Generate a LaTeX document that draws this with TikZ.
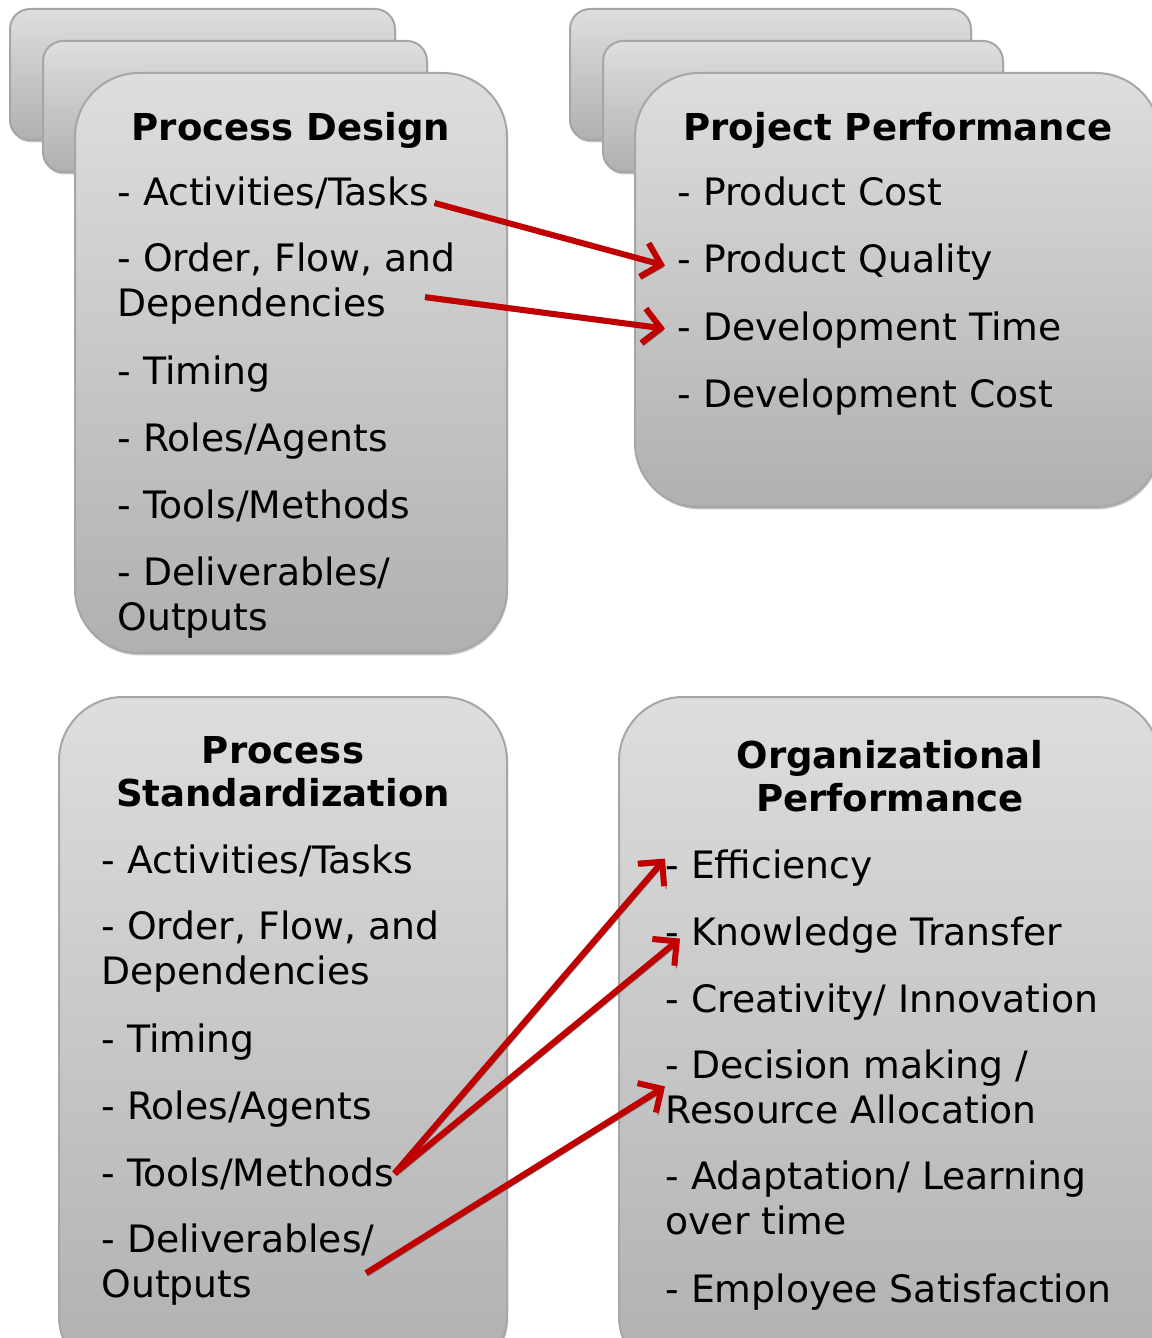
\documentclass[tikz,border=0pt]{standalone}
\usepackage{fontspec}
\setmainfont{DejaVu Sans}
\usetikzlibrary{arrows.meta,shadows}

\definecolor{cardtop}{RGB}{222,222,222}
\definecolor{cardbot}{RGB}{176,176,176}
\definecolor{cardline}{RGB}{166,166,166}
\definecolor{linkred}{RGB}{192,0,0}
\definecolor{linkshade}{RGB}{110,110,110}

\tikzset{every picture/.style={line width=0.75pt}}
\tikzset{
  card/.style={draw=cardline, line width=1.5, top color=cardtop, bottom color=cardbot,
    drop shadow={shadow xshift=0.8pt, shadow yshift=-1.8pt, opacity=0.45}},
  backcard/.style={card, rounded corners=15pt},
  maincard/.style={card, rounded corners=48pt},
  head/.style={font=\fontsize{27.8}{32}\selectfont\bfseries, align=center, anchor=base, inner sep=0},
  item/.style={font=\fontsize{28.3}{33.75}\selectfont, align=left, anchor=base west, inner sep=0},
  link/.style={draw=linkred, line width=4.5pt, -{Straight Barb[length=13pt, width=26pt]},
    preaction={draw=linkshade, transform canvas={xshift=1.5pt, yshift=-2pt}}},
}

\begin{document}
\begin{tikzpicture}[x=0.75pt,y=0.75pt,yscale=-1,xscale=1]
\useasboundingbox (0,0) rectangle (1152,1338);

%Shape: stacked cards, process design
\draw [backcard] (10,9) rectangle (395,140);
\draw [backcard] (43,41) rectangle (427,172);
\draw [maincard] (75,73) rectangle (507,653);
%Shape: stacked cards, project performance
\draw [backcard] (570,9) rectangle (971,140);
\draw [backcard] (603,41) rectangle (1003,172);
\draw [maincard] (635,73) rectangle (1160,507);
%Shape: process standardization
\draw [maincard] (59,697) rectangle (507,1380);
%Shape: organizational performance
\draw [maincard] (619,697) rectangle (1160,1380);

% Text Node: process design
\node [head] (pdh) at (291,140) {Process Design};
\node [item] (pd1) at (117,205) {- Activities/Tasks};
\node [item] (pd2) at (117,316) {- Order, Flow, and\\Dependencies};
\node [item] (pd3) at (117,384) {- Timing};
\node [item] (pd4) at (117,451) {- Roles/Agents};
\node [item] (pd5) at (117,518) {- Tools/Methods};
\node [item] (pd6) at (117,630) {- Deliverables/\\Outputs};

% Text Node: project performance
\node [head] (pph) at (898,140) {Project Performance};
\node [item] (pp1) at (677,205) {- Product Cost};
\node [item] (pp2) at (677,272) {- Product Quality};
\node [item] (pp3) at (677,340) {- Development Time};
\node [item] (pp4) at (677,407) {- Development Cost};

% Text Node: process standardization
\node [head] (psh) at (283,806) {Process\\Standardization};
\node [item] (ps1) at (101,873) {- Activities/Tasks};
\node [item] (ps2) at (101,984) {- Order, Flow, and\\Dependencies};
\node [item] (ps3) at (101,1052) {- Timing};
\node [item] (ps4) at (101,1119) {- Roles/Agents};
\node [item] (ps5) at (101,1186) {- Tools/Methods};
\node [item] (ps6) at (101,1297) {- Deliverables/\\Outputs};

% Text Node: organizational performance
\node [head] (poh) at (890,811) {Organizational\\Performance};
\node [item] (po1) at (665,878) {- Efficiency};
\node [item] (po2) at (665,945) {- Knowledge Transfer};
\node [item] (po3) at (665,1012) {- Creativity/ Innovation};
\node [item] (po4) at (665,1123) {- Decision making /\\Resource Allocation};
\node [item] (po5) at (665,1234) {- Adaptation/ Learning\\over time};
\node [item] (po6) at (665,1302) {- Employee Satisfaction};

%Straight Lines: links
\draw [link] ([shift={(5,-2)}]pd1.base east) -- ([shift={(-12,4)}]pp2.west);
\draw [link] ([shift={(-31,14)}]pd2.east) -- ([shift={(-12,-1)}]pp3.west);
\draw [link] (ps5.east) -- ([shift={(0,-9)}]po1.west);
\draw [link] (ps5.east) -- ([shift={(15,4)}]po2.west);
\draw [link] ([shift={(-9,9)}]ps6.east) -- (po4.west);

\end{tikzpicture}
\end{document}
